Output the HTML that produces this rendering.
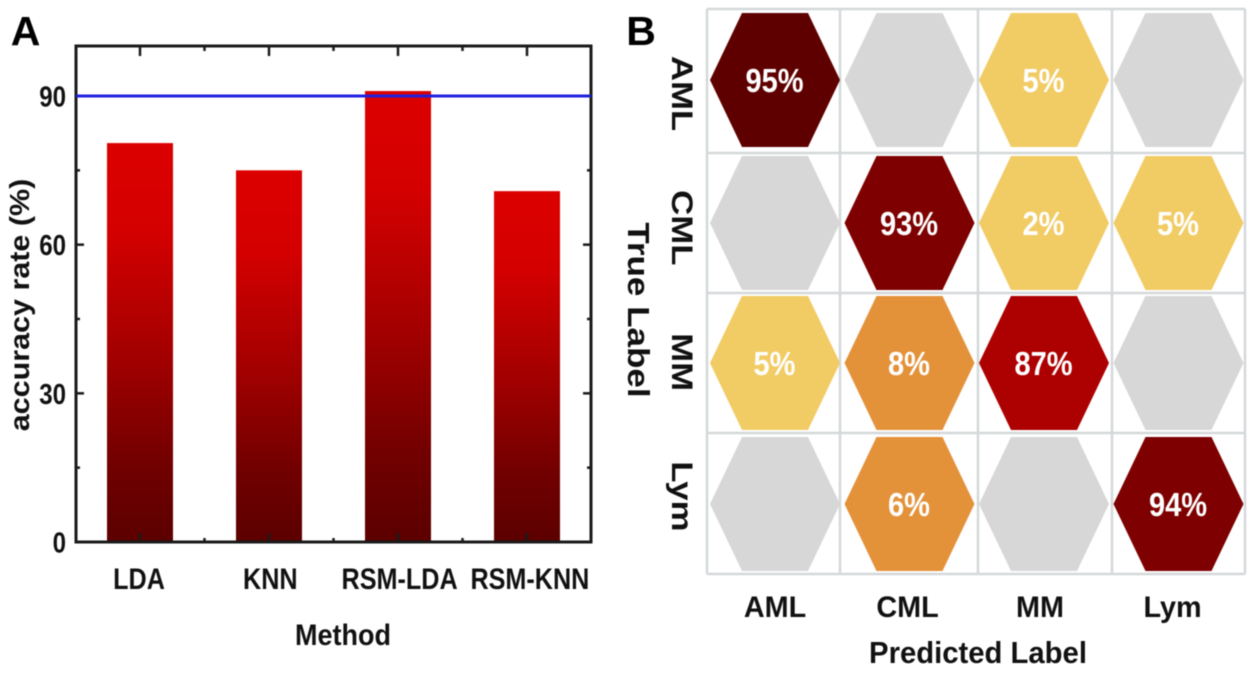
<!DOCTYPE html>
<html lang="en">
<head>
<meta charset="utf-8">
<title>Accuracy rate and confusion matrix</title>
<style>
html,body{margin:0;padding:0;background:#fff;}
#figure{display:block;width:1254px;height:673px;filter:blur(0.6px);}
text{font-family:"Liberation Sans",Arial,sans-serif;font-weight:bold;}
</style>
</head>
<body>
<svg id="figure" xmlns="http://www.w3.org/2000/svg" width="1254" height="673" viewBox="0 0 1254 673">
<defs>
<linearGradient id="barGradient" x1="0" y1="0" x2="0" y2="1">
<stop offset="0" stop-color="#dc0000"/>
<stop offset="0.22" stop-color="#d40000"/>
<stop offset="0.55" stop-color="#a00000"/>
<stop offset="0.8" stop-color="#720000"/>
<stop offset="1" stop-color="#5c0000"/>
</linearGradient>
</defs>
<rect width="1254" height="673" fill="#fff"/>
<g id="panelA"></g>
<g id="panelB"></g>
</svg>
<script>
const methods = ['LDA', 'KNN', 'RSM-LDA', 'RSM-KNN'];
const accuracy = [80.5, 75, 91, 70.8];
const threshold = 90;
const yTicks = [0, 30, 60, 90];
const yMinorTicks = [15, 45, 75];
const trueLabels = ['AML', 'CML', 'MM', 'Lym'];
const predictedLabels = ['AML', 'CML', 'MM', 'Lym'];
const confusion = [
  [95, 0, 5, 0],
  [0, 93, 2, 5],
  [5, 8, 87, 0],
  [0, 6, 0, 94]
];

const NS = 'http://www.w3.org/2000/svg';
function make(parent, tag, attrs, content) {
  const el = document.createElementNS(NS, tag);
  for (const k in attrs) el.setAttribute(k, attrs[k]);
  if (content !== undefined) el.textContent = content;
  parent.appendChild(el);
  return el;
}
function label(parent, str, x, y, size, sx, rot, anchor, fill) {
  let t = 'translate(' + x + ',' + y + ')';
  if (rot) t += ' rotate(' + rot + ')';
  t += ' scale(' + sx + ',1)';
  return make(parent, 'text', {transform: t, 'font-size': size, 'text-anchor': anchor || 'middle', fill: fill || '#111'}, str);
}

/* ---------- Panel A ---------- */
const A = document.getElementById('panelA');
const plot = {left: 76, right: 591, top: 46, bottom: 542};
const yScale = v => plot.bottom - v * (plot.bottom - 96) / 90;
const xStep = 129, xFirst = 140;
const xScale = i => xFirst + i * xStep;
const xLabelPos = i => 139 + i * 130.3;
const barWidth = 66;

accuracy.forEach((v, i) => {
  const bar = make(A, 'rect', {x: xScale(i) - barWidth / 2, y: yScale(v), width: barWidth, height: yScale(0) - yScale(v), fill: 'url(#barGradient)'});
  
  
});

const frame = make(A, 'rect', {x: plot.left, y: plot.top, width: plot.right - plot.left, height: plot.bottom - plot.top, fill: 'none', stroke: '#1a1a1a', 'stroke-width': 3});



function tick(x1, y1, x2, y2, name) {
  const l = make(A, 'line', {x1: x1, y1: y1, x2: x2, y2: y2, stroke: '#1a1a1a', 'stroke-width': 2.5});
  
  
}
yTicks.forEach(v => {
  tick(plot.left, yScale(v), plot.left + 8, yScale(v), 'y-tick-left');
  tick(plot.right, yScale(v), plot.right - 8, yScale(v), 'y-tick-right');
  const t = label(A, String(v), 66, yScale(v) + 10.5, 29, 0.83, 0, 'end');
  
  
});
yMinorTicks.forEach(v => {
  tick(plot.left, yScale(v), plot.left + 4, yScale(v), 'y-minor-tick-left');
  tick(plot.right, yScale(v), plot.right - 4, yScale(v), 'y-minor-tick-right');
});
methods.forEach((m, i) => {
  tick(xScale(i), plot.bottom, xScale(i), plot.bottom - 9, 'x-tick-bottom');
  tick(xScale(i), plot.top, xScale(i), plot.top + 10, 'x-tick-top');
  if (i < methods.length - 1) {
    tick(xScale(i + 0.5), plot.bottom, xScale(i + 0.5), plot.bottom - 4, 'x-minor-tick-bottom');
    tick(xScale(i + 0.5), plot.top, xScale(i + 0.5), plot.top + 5, 'x-minor-tick-top');
  }
  const t = label(A, m, xLabelPos(i) + (i === 1 ? 1 : 0), 589, 30, 0.84);
  
  
});

const refLine = make(A, 'line', {x1: plot.left, x2: plot.right, y1: yScale(threshold), y2: yScale(threshold), stroke: '#2020e0', 'stroke-width': 3});



const yTitle = label(A, 'accuracy rate (%)', 29, 305, 28, 1.09, -90);


const xTitle = label(A, 'Method', 343, 645, 30, 0.9);


const letterA = label(A, 'A', 25.5, 45, 41, 1, 0, 'middle', '#000');



/* ---------- Panel B ---------- */
const B = document.getElementById('panelB');
const gridX = [707, 840, 978, 1112, 1245];
const gridY = [9, 153, 293, 433, 574];
const colCenter = i => 775 + i * 134.5;
const rowCenter = i => (gridY[i] + gridY[i + 1]) / 2 + (i === 0 ? -1 : i === 3 ? 0.5 : 0);
const rowLabelPos = i => 93.5 + i * 134.3;
const colLabelPos = i => 775 + i * 132.5;
const hexW = 65, hexH = 67, hexFlat = 33;

function cellColor(v) {
  if (v === 0) return '#d7d7d7';
  if (v <= 5) return '#f1cb64';
  if (v <= 10) return '#e4923a';
  if (v < 90) return '#ad0000';
  if (v >= 95) return '#5f0000';
  return '#7e0000';
}

gridX.forEach(x => {
  const l = make(B, 'line', {x1: x, x2: x, y1: gridY[0], y2: gridY[4], stroke: '#d5d8da', 'stroke-width': 2.5});
  
  
});
gridY.forEach(y => {
  const l = make(B, 'line', {x1: gridX[0], x2: gridX[4], y1: y, y2: y, stroke: '#d5d8da', 'stroke-width': 2.5});
  
  
});

confusion.forEach((row, r) => {
  row.forEach((v, c) => {
    const cx = colCenter(c), cy = rowCenter(r);
    const pts = [[cx - hexW, cy], [cx - hexFlat, cy - hexH], [cx + hexFlat, cy - hexH], [cx + hexW, cy], [cx + hexFlat, cy + hexH], [cx - hexFlat, cy + hexH]];
    const hex = make(B, 'polygon', {points: pts.map(p => p.join(',')).join(' '), fill: cellColor(v)});
    
    
    if (v > 0) {
      const t = label(B, v + '%', cx - 0.5, cy + 12, 33, 0.88, 0, 'middle', '#fff');
      
      
    }
  });
});

trueLabels.forEach((m, i) => {
  const t = label(B, m, 672, rowLabelPos(i), 30, 1.16, 90);
  
  
});
predictedLabels.forEach((m, i) => {
  const t = label(B, m, colLabelPos(i), 617, 30, 0.96);
  
  
});
const trueTitle = label(B, 'True Label', 628, 310, 31, 1.13, 90);


const predTitle = label(B, 'Predicted Label', 978, 663, 30.5, 0.96);


const letterB = label(B, 'B', 641, 45, 41, 1, 0, 'middle', '#000');


</script>
</body>
</html>
